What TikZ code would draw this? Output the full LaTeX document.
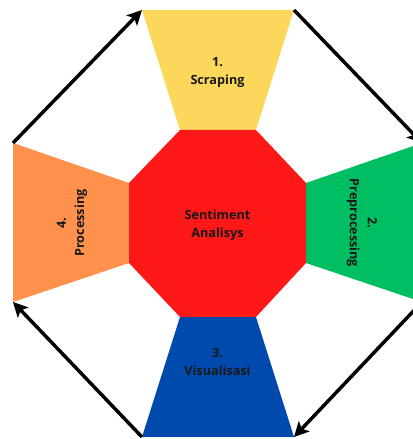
\documentclass[tikz,border=0pt]{standalone}
\usepackage{fontspec}
\setmainfont{Open Sans}
\usetikzlibrary{arrows.meta}
\definecolor{cyellow}{HTML}{FBD85C}
\definecolor{cred}{HTML}{FF1818}
\definecolor{cgreen}{HTML}{00BF63}
\definecolor{corange}{HTML}{FF914D}
\definecolor{cblue}{HTML}{004AAD}
\tikzset{
  lbl/.style={align=center, font=\fontsize{9.5}{13.5}\selectfont\bfseries, text=black!90, inner sep=0pt},
  cyc/.style={line width=2.6pt, -{Stealth[length=11pt,width=11pt,inset=2.5pt]}, black}
}
\begin{document}
\begin{tikzpicture}[x=0.75pt,y=0.75pt]
\path[use as bounding box, clip] (0,0) rectangle (413,439);
% corners
\coordinate (ytl) at (142,429);
\coordinate (ytr) at (294,429);
\coordinate (gtr) at (422,296);
\coordinate (gbr) at (422,137);
\coordinate (bbr) at (294,2);
\coordinate (bbl) at (142,2);
\coordinate (obl) at (13,137);
\coordinate (otl) at (13,296);
% octagon vertices
\coordinate (o1) at (180,309);
\coordinate (o2) at (256,309);
\coordinate (o3) at (306,256);
\coordinate (o4) at (306,176);
\coordinate (o5) at (256,122);
\coordinate (o6) at (180,122);
\coordinate (o7) at (129,176);
\coordinate (o8) at (129,256);
% shapes
\fill[cyellow] (ytl) -- (ytr) -- (o2) -- (o1) -- cycle;
\fill[cgreen] (o3) -- (gtr) -- (gbr) -- (o4) -- cycle;
\fill[cblue] (o6) -- (o5) -- (bbr) -- (bbl) -- cycle;
\fill[corange] (otl) -- (o8) -- (o7) -- (obl) -- cycle;
\fill[cred] (o1) -- (o2) -- (o3) -- (o4) -- (o5) -- (o6) -- (o7) -- (o8) -- cycle;
% labels
\node[lbl] (scr) at (217.5,366) {1.\\Scraping};
\node[lbl] (sen) at (217.5,214) {Sentiment\\Analisys};
\node[lbl] (vis) at (217.5,77) {3.\\Visualisasi};
\node[lbl, rotate=90] (pro) at (72,216) {4.\\Processing};
\node[lbl, rotate=-90] (pre) at (362,216) {2.\\Preprocessing};
% cycle arrows
\draw[cyc] (otl) -- (ytl);
\draw[cyc] (ytr) -- (gtr);
\draw[cyc] (gbr) -- (bbr);
\draw[cyc] (bbl) -- (obl);
\end{tikzpicture}
\end{document}
